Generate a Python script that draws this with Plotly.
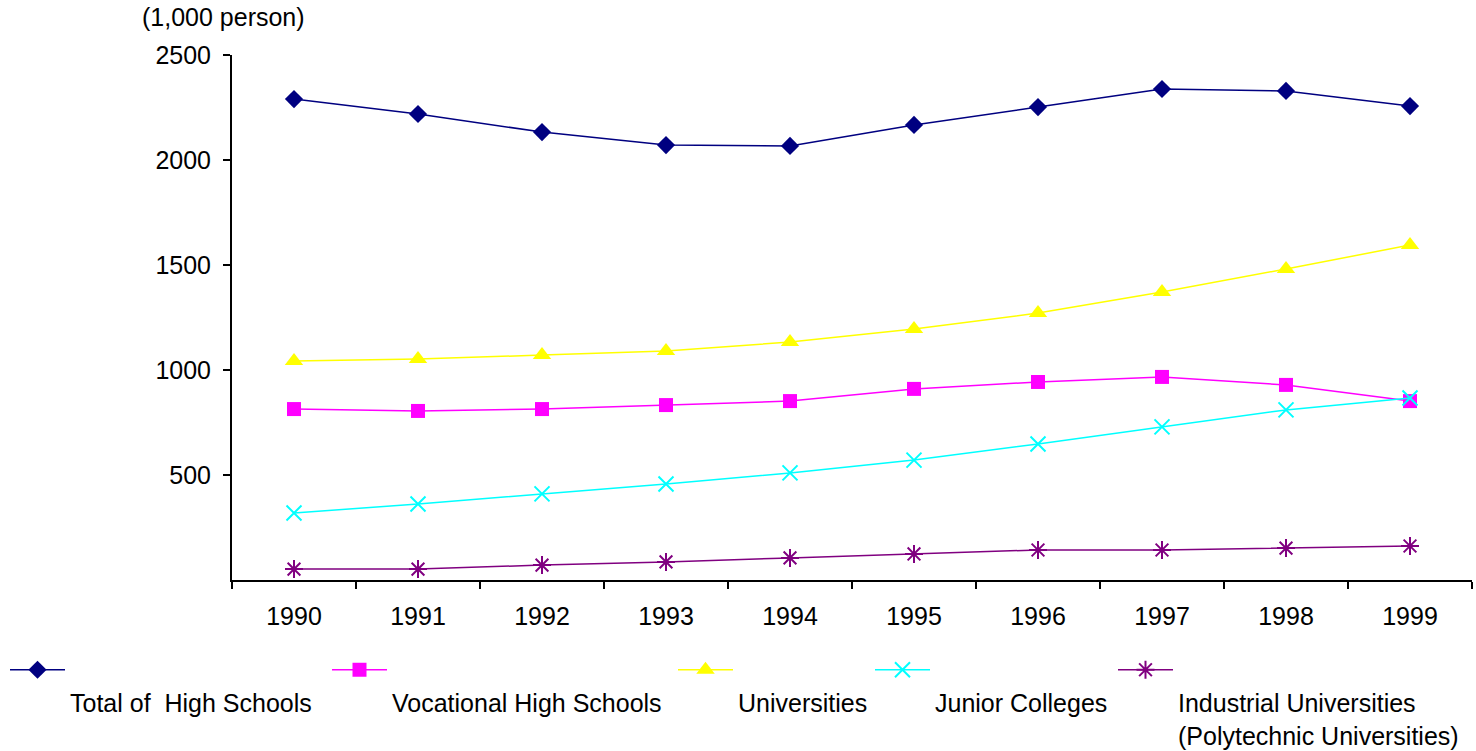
import plotly.graph_objects as go

years = ["1990", "1991", "1992", "1993", "1994", "1995", "1996", "1997", "1998", "1999"]
total_high = [2290, 2219, 2133, 2071, 2067, 2167, 2252, 2338, 2329, 2257]
vocational = [814, 805, 814, 833, 852, 910, 943, 967, 929, 852]
universities = [1043, 1052, 1071, 1090, 1133, 1195, 1271, 1371, 1481, 1595]
junior = [319, 362, 410, 457, 510, 571, 648, 729, 810, 867]
industrial = [52, 52, 71, 86, 105, 124, 143, 143, 152, 162]

names = ["Total of\u00a0 High Schools", "Vocational High Schools", "Universities",
         "Junior Colleges", "Industrial Universities<br>(Polytechnic Universities)"]

FONT = "Liberation Sans, Arial, sans-serif"
FS = 25
W, H = 1476, 751

series = [
    (total_high, "#000080", "diamond", 14, 0),
    (vocational, "#FF00FF", "square", 14, 0),
    (universities, "#FFFF00", "triangle-up", 16, 0),
    (junior, "#00FFFF", "x-thin-open", 15, 2),
    (industrial, "#800080", "asterisk-open", 15, 2),
]
legend_left_px = [10, 332, 678, 875, 1118]

fig = go.Figure()
legend_ids = ["legend", "legend2", "legend3", "legend4", "legend5"]
for (vals, color, sym, size, lw), name, lid in zip(series, names, legend_ids):
    fig.add_trace(go.Scatter(
        x=years, y=vals, mode="lines+markers", name="<br>" + name, legend=lid,
        line=dict(color=color, width=1.5),
        marker=dict(symbol=sym, size=size, color=color, line=dict(color=color, width=lw)),
    ))

legend_layout = {}
for lid, px in zip(legend_ids, legend_left_px):
    legend_layout[lid] = dict(orientation="h", xref="container", yref="container",
                              x=(px - 5) / W, y=1 - 647 / H, xanchor="left", yanchor="top",
                              valign="top", itemwidth=55, font=dict(size=FS),
                              bgcolor="rgba(0,0,0,0)", itemclick=False)

fig.update_layout(
    width=W, height=H,
    margin=dict(l=232, r=4, t=55, b=171, autoexpand=False),
    paper_bgcolor="white", plot_bgcolor="white",
    font=dict(family=FONT, size=FS, color="black"),
    showlegend=True,
    xaxis=dict(type="category", range=[-0.5, 9.5], showline=True, linecolor="black", linewidth=2,
               ticks="outside", tickson="boundaries", ticklen=7, tickwidth=2, tickcolor="black",
               showgrid=False, zeroline=False, ticklabelstandoff=13, automargin=False),
    yaxis=dict(range=[0, 2500], tickvals=[500, 1000, 1500, 2000, 2500], showline=True,
               linecolor="black", linewidth=2, ticks="outside", ticklen=7, tickwidth=2,
               tickcolor="black", showgrid=False, zeroline=False, ticklabelstandoff=7,
               automargin=False),
    annotations=[dict(text="(1,000 person)", x=(140 - 232) / 1240, y=1 + (55 - 17) / 525,
                      xref="paper", yref="paper", showarrow=False, font=dict(size=FS),
                      xanchor="left", yanchor="middle")],
)
fig.update_layout(**legend_layout)

fig.write_html("out.html", config={"displayModeBar": False},
               post_script="document.body.style.margin='0';")
